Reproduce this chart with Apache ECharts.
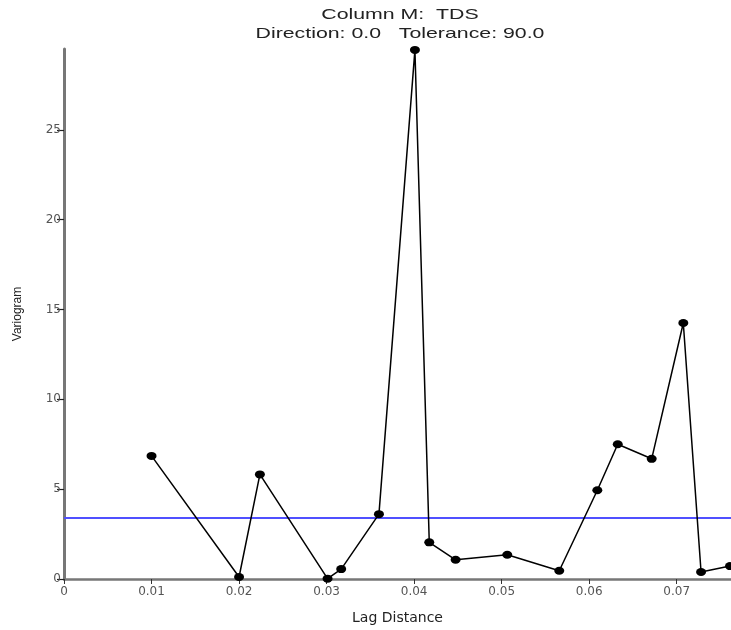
<!DOCTYPE html>
<html>
<head>
<meta charset="utf-8">
<script src="https://cdn.jsdelivr.net/npm/echarts@6/dist/echarts.min.js"></script>
<style>html,body{margin:0;padding:0;background:#fff}#chart{width:731px;height:630px}</style>
</head>
<body>
<div id="chart"></div>
<script>
// Data
const lagDistance = [0.0100, 0.0200, 0.02238, 0.03011, 0.03167, 0.03598, 0.04009, 0.04173, 0.04474, 0.05064, 0.05658, 0.06093, 0.06326, 0.06714, 0.07075, 0.07278, 0.07609];
const variogram   = [6.85, 0.11, 5.82, 0.02, 0.55, 3.61, 29.45, 2.04, 1.07, 1.35, 0.46, 4.94, 7.50, 6.69, 14.25, 0.39, 0.72];
const sillValue = 3.41;
const titleLines = ['Column M:  TDS', 'Direction: 0.0   Tolerance: 90.0'];
const xAxisTitle = 'Lag Distance';
const yAxisTitle = 'Variogram';

const points = lagDistance.map((x, i) => [x, variogram[i]]);

const chart = echarts.init(document.getElementById('chart'), null, {renderer: 'canvas'});
chart.setOption({
  animation: false,
  backgroundColor: '#ffffff',
  graphic: [{
    type: 'text',
    x: 400, y: 5,
    scaleX: 1.42, originX: 0, originY: 0,
    style: {
      text: titleLines.join('\n'),
      font: '15px "Liberation Sans"',
      lineHeight: 19,
      fill: '#222',
      textAlign: 'center',
      textVerticalAlign: 'top'
    }
  }],
  grid: {left: 64, right: 0, top: 49, bottom: 46, containLabel: false},
  xAxis: {
    type: 'value',
    min: 0, max: 0.0762, interval: 0.01,
    name: xAxisTitle,
    nameLocation: 'middle',
    nameGap: 32,
    nameTextStyle: {fontFamily: 'DejaVu Sans', fontSize: 14, color: '#222'},
    axisLine: {show: true, onZero: false, lineStyle: {color: '#777', width: 2.5}},
    axisTick: {show: true, length: 5, lineStyle: {color: '#333', width: 1}},
    axisLabel: {
      fontFamily: 'DejaVu Sans', fontSize: 12, color: '#555', margin: 7,
      showMaxLabel: false,
      formatter: v => (v === 0 ? '0' : v.toFixed(2))
    },
    splitLine: {show: false}
  },
  yAxis: {
    type: 'value',
    min: 0, max: 29.5, interval: 5,
    name: yAxisTitle,
    nameLocation: 'middle',
    nameRotate: 90,
    nameGap: 40,
    nameTextStyle: {fontFamily: 'Liberation Sans', fontSize: 12, color: '#222'},
    axisLine: {show: true, lineStyle: {color: '#777', width: 3}},
    axisTick: {show: true, length: 7, lineStyle: {color: '#222', width: 1.2}},
    axisLabel: {fontFamily: 'DejaVu Sans', fontSize: 12, color: '#555', margin: 3, showMaxLabel: false},
    splitLine: {show: false}
  },
  series: [{
    type: 'line',
    data: points,
    clip: false,
    symbol: 'circle',
    symbolSize: [10, 8],
    itemStyle: {color: '#000'},
    lineStyle: {color: '#000', width: 1.5},
    z: 3,
    markLine: {
      silent: true,
      symbol: ['none', 'none'],
      label: {show: false},
      lineStyle: {color: '#5050ff', width: 2, type: 'solid'},
      data: [{yAxis: sillValue}],
      z: 2
    }
  }]
});
</script>
</body>
</html>
